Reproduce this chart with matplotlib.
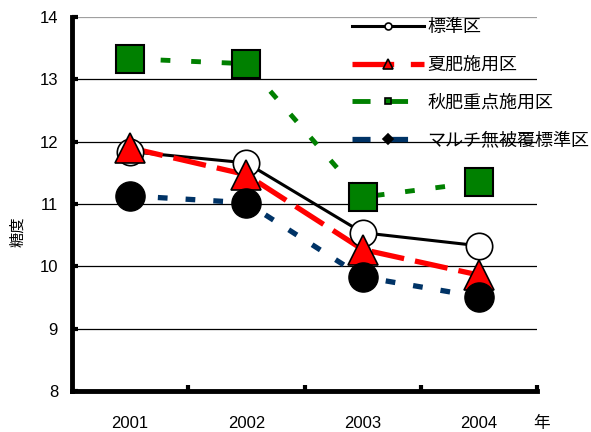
import matplotlib
matplotlib.use("Agg")
import matplotlib.pyplot as plt
from matplotlib.lines import Line2D

plt.rcParams['font.family'] = ['Liberation Sans', 'Noto Sans CJK JP', 'DejaVu Sans']
plt.rcParams['lines.scale_dashes'] = False

years = ['2001', '2002', '2003', '2004']
series_names = ['標準区', '夏肥施用区', '秋肥重点施用区', 'マルチ無被覆標準区']
standard = [11.84, 11.66, 10.54, 10.33]
summer_fert = [11.90, 11.47, 10.27, 9.86]
autumn_fert = [13.33, 13.25, 11.11, 11.35]
no_mulch = [11.13, 11.02, 9.83, 9.51]
y_ticks = [8, 9, 10, 11, 12, 13, 14]

fig = plt.figure(figsize=(5.91, 4.32), dpi=100)
ax = fig.add_axes([72 / 591, 41 / 432, 465 / 591, 374 / 432])

x = list(range(len(years)))

# horizontal gridlines
for v in y_ticks[1:]:
    ax.axhline(v, color='#a0a0a0' if v == 14 else 'black', lw=0.9, zorder=1)

styles = [
    dict(data=standard, color='black', lw=2.2, dashes=None,
         marker='o', ms=19, mfc='white', mec='black', mew=1.2,
         leg=dict(marker='o', ms=5, mfc='white', mec='black')),
    dict(data=summer_fert, color='#ff0000', lw=3.8, dashes=(24, 8),
         marker='^', ms=22, mfc='#ff0000', mec='black', mew=1.2,
         leg=dict(marker='^', ms=7, mfc='#ff0000', mec='black')),
    dict(data=autumn_fert, color='#008000', lw=3.5, dashes=(7, 15),
         marker='s', ms=20, mfc='#008000', mec='black', mew=1.5,
         leg=dict(marker='s', ms=5, mfc='#008000', mec='black')),
    dict(data=no_mulch, color='#003366', lw=3.8, dashes=(7, 13),
         marker='o', ms=21, mfc='black', mec='black', mew=1.0,
         leg=dict(marker='D', ms=5, mfc='black', mec='black')),
]

handles = []
for name, s in zip(series_names, styles):
    kw = dict(color=s['color'], lw=s['lw'], zorder=3)
    if s['dashes'] is not None:
        kw['dashes'] = s['dashes']
    ax.plot(x, s['data'], **kw)
    ax.plot(x, s['data'], linestyle='none', marker=s['marker'], ms=s['ms'],
            mfc=s['mfc'], mec=s['mec'], mew=s['mew'], zorder=4)
    hk = dict(color=s['color'], lw=s['lw'])
    if s['dashes'] is not None:
        hk['dashes'] = (13, 14) if name != '夏肥施用区' else (30, 12)
    handles.append(Line2D([], [], **hk, **s['leg'], mew=1.2))

ax.set_xlim(-0.5, 3.5)
ax.set_ylim(8, 14)

ax.set_xticks(x)
ax.set_xticklabels(years, fontsize=12)
ax.set_xticks([0.5, 1.5, 2.5, 3.5], minor=True)
ax.tick_params(axis='x', which='major', length=0, pad=18)
ax.tick_params(axis='x', which='minor', direction='in', length=4, width=3)

ax.set_yticks(y_ticks)
ax.set_yticklabels([str(v) for v in y_ticks], fontsize=12)
ax.tick_params(axis='y', direction='in', length=4, width=3, pad=10)

for side in ['top', 'right']:
    ax.spines[side].set_visible(False)
for side in ['left', 'bottom']:
    ax.spines[side].set_linewidth(3.5)
    ax.spines[side].set_color('black')

fig.text(18 / 591, 1 - 232 / 432, '糖度', fontsize=11, rotation=90,
         ha='center', va='center')
fig.text(542 / 591, 1 - 423 / 432, '年', fontsize=12, ha='center', va='center')

leg = fig.legend(handles, series_names, loc='upper left',
                 bbox_to_anchor=(345 / 591, 1 - 12 / 432), frameon=False,
                 fontsize=13, handlelength=4.0, handletextpad=0.15,
                 labelspacing=1.15, numpoints=1, borderaxespad=0)
leg.set_zorder(10)

fig.savefig('out.png', dpi=100)
